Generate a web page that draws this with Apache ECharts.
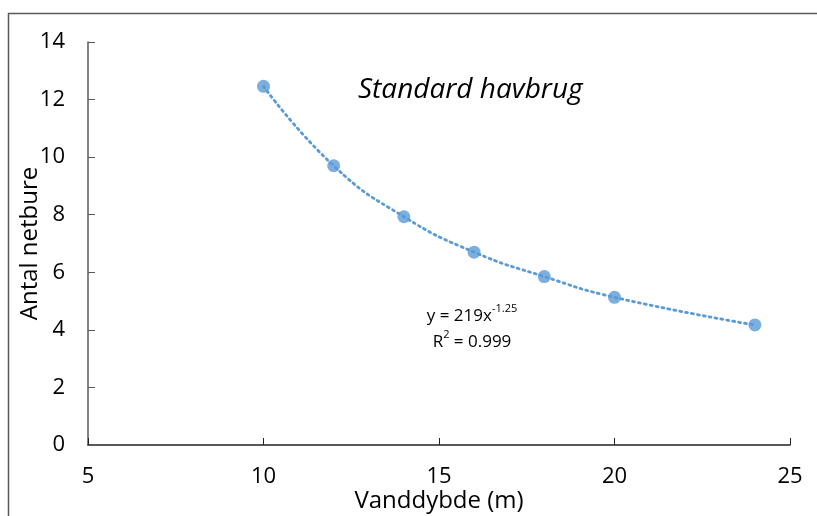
<!DOCTYPE html>
<html>
<head>
<meta charset="utf-8">
<script src="https://cdn.jsdelivr.net/npm/echarts@6/dist/echarts.min.js"></script>
<style>
  html, body { margin: 0; padding: 0; background: #fff; }
  #chart { width: 817px; height: 516px; }
</style>
</head>
<body>
<div id="chart"></div>
<script>
// Vanddybde (m) vs antal netbure
const depths = [10, 12, 14, 16, 18, 20, 24];
const cages = [12.46, 9.70, 7.93, 6.70, 5.85, 5.13, 4.17];

const xTicks = { min: 5, max: 25, interval: 5 };
const yTicks = { min: 0, max: 14, interval: 2 };

const points = depths.map((d, i) => [d, cages[i]]);

const chart = echarts.init(document.getElementById('chart'));
const font = '"Open Sans", "Noto Sans", sans-serif';
const blue = '#5b9bd5';

chart.setOption({
  animation: false,
  textStyle: { fontFamily: font },
  grid: { left: 88, top: 42, right: 27, bottom: 71, outerBoundsMode: 'none', containLabel: false },
  xAxis: {
    type: 'value',
    min: xTicks.min,
    max: xTicks.max,
    interval: xTicks.interval,
    name: 'Vanddybde (m)',
    nameLocation: 'middle',
    nameGap: 44,
    nameMoveOverlap: false,
    nameTextStyle: { fontSize: 24, color: '#000', fontFamily: font },
    axisLine: { lineStyle: { color: '#222', width: 1.5 } },
    axisTick: { inside: true, length: 7, lineStyle: { color: '#222' } },
    axisLabel: { fontSize: 22, color: '#000', margin: 21, fontFamily: font },
    splitLine: { show: false },
  },
  yAxis: {
    type: 'value',
    min: yTicks.min,
    max: yTicks.max,
    interval: yTicks.interval,
    name: 'Antal netbure',
    nameLocation: 'middle',
    nameGap: 46,
    nameMoveOverlap: false,
    nameTextStyle: { fontSize: 24, color: '#000', fontFamily: font },
    axisLine: { show: true, lineStyle: { color: '#595959', width: 1.5 } },
    axisTick: { show: true, inside: true, length: 7, lineStyle: { color: '#595959' } },
    axisLabel: { fontSize: 22, color: '#000', margin: 23, fontFamily: font },
    splitLine: { show: false },
  },
  series: [
    {
      name: 'trend',
      type: 'line',
      data: points,
      smooth: 0.5,
      showSymbol: false,
      lineStyle: { color: blue, width: 2.8, type: [2, 4], cap: 'round' },
      z: 1,
    },
    {
      name: 'Antal netbure',
      type: 'scatter',
      data: points,
      symbolSize: 13,
      itemStyle: { color: blue },
      z: 2,
    },
  ],
  graphic: [
    {
      type: 'polyline',
      shape: { points: [[8.5, 516], [8.5, 13.5], [817, 13.5]] },
      style: { stroke: '#595959', lineWidth: 1.5, fill: null },
    },
    {
      type: 'text',
      style: {
        x: 358,
        y: 90,
        text: 'Standard havbrug',
        font: 'italic 28px ' + font,
        fill: '#000',
        verticalAlign: 'middle',
      },
    },
    {
      type: 'text',
      style: {
        x: 472,
        y: 303,
        text: '{a|y = 219x}{s|-1.25}\n{a|R}{s|2}{a| = 0.999}',
        align: 'center',
        verticalAlign: 'top',
        rich: {
          a: { fontSize: 17, fontFamily: font, color: '#000', lineHeight: 26 },
          s: { fontSize: 11, fontFamily: font, color: '#000', verticalAlign: 'top', lineHeight: 26, padding: [0, 0, 10, 0] },
        },
      },
    },
  ],
});

window.addEventListener('resize', () => chart.resize());
</script>
</body>
</html>
